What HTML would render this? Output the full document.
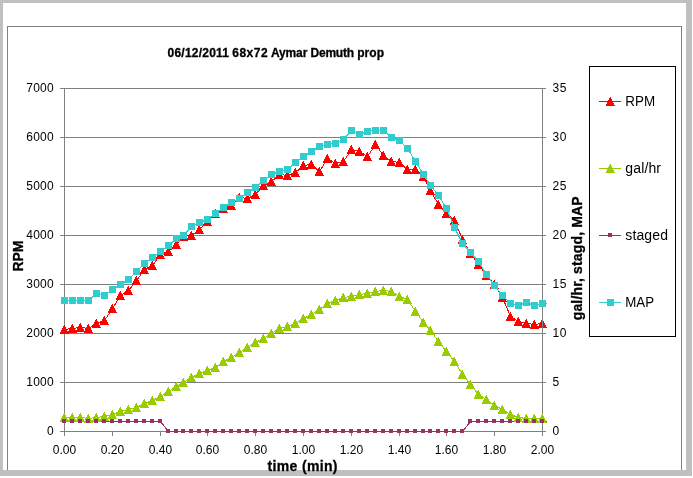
<!DOCTYPE html>
<html lang="en">
<head>
<meta charset="utf-8">
<title>06/12/2011 68x72 Aymar Demuth prop</title>
<style>
html,body{margin:0;padding:0;background:#fff;}
body{width:693px;height:478px;overflow:hidden;}
svg{display:block;will-change:transform;}
text{font-family:"Liberation Sans",Arial,Helvetica,sans-serif;fill:#000;}
.t12{font-size:12px;}
.t14{font-size:14px;}
.b{font-weight:bold;stroke:#000;stroke-width:0.3px;}
</style>
</head>
<body>
<svg width="693" height="478" viewBox="0 0 693 478">
<rect x="0" y="0" width="693" height="478" fill="#ffffff"/>
<defs><path id="tr" d="M0,-4 H1 V-2 H2 V0 H3 V2 H4 V4 H5 V5 H-4 V3 H-3 V1 H-2 V-1 H-1 V-3 H0 Z"/></defs>
<g shape-rendering="crispEdges">
<rect x="0" y="0" width="692" height="476" fill="#c0c0c0"/>
<rect x="3" y="3" width="683" height="467" fill="#ffffff"/>
<!-- chart area border -->
<rect x="7" y="26" width="1" height="444" fill="#808080"/>
<rect x="681" y="26" width="1" height="444" fill="#808080"/>
<rect x="7" y="26" width="675" height="1" fill="#808080"/>

<g fill="#808080">
<rect x="60" y="88" width="486" height="1"/>
<rect x="60" y="137" width="486" height="1"/>
<rect x="60" y="186" width="486" height="1"/>
<rect x="60" y="235" width="486" height="1"/>
<rect x="60" y="284" width="486" height="1"/>
<rect x="60" y="333" width="486" height="1"/>
<rect x="60" y="382" width="486" height="1"/>
<rect x="60" y="431" width="486" height="1"/>
<rect x="64" y="88" width="1" height="344"/>
<rect x="64" y="431" width="1" height="5"/>
<rect x="112" y="431" width="1" height="5"/>
<rect x="160" y="431" width="1" height="5"/>
<rect x="207" y="431" width="1" height="5"/>
<rect x="255" y="431" width="1" height="5"/>
<rect x="303" y="431" width="1" height="5"/>
<rect x="351" y="431" width="1" height="5"/>
<rect x="399" y="431" width="1" height="5"/>
<rect x="446" y="431" width="1" height="5"/>
<rect x="494" y="431" width="1" height="5"/>
<rect x="542" y="431" width="1" height="5"/>
</g>
<g fill="#ff0000">
<polyline points="64.5,329.5 72.5,328.5 80.5,327.5 88.5,328.5 96.5,323.5 104.5,320.5 112.5,308.5 120.5,295.5 128.5,290.5 136.5,280.5 144.5,269.5 152.5,265.5 160.5,254.5 168.5,251.5 176.5,244.5 183.5,236.5 191.5,235.5 199.5,229.5 207.5,221.5 215.5,213.5 223.5,208.5 231.5,205.5 239.5,197.5 247.5,198.5 255.5,194.5 263.5,185.5 271.5,181.5 279.5,174.5 287.5,175.5 295.5,172.5 303.5,165.5 311.5,164.5 319.5,171.5 327.5,158.5 335.5,163.5 343.5,161.5 351.5,149.5 359.5,151.5 367.5,156.5 375.5,144.5 383.5,155.5 391.5,161.5 399.5,162.5 407.5,169.5 415.5,169.5 423.5,176.5 430.5,190.5 438.5,204.5 446.5,213.5 454.5,220.5 462.5,239.5 470.5,253.5 478.5,264.5 486.5,275.5 494.5,284.5 502.5,297.5 510.5,316.5 518.5,321.5 526.5,323.5 534.5,324.5 542.5,323.5" fill="none" stroke="#ff0000" stroke-width="1"/>
<use href="#tr" x="64" y="329"/>
<use href="#tr" x="72" y="328"/>
<use href="#tr" x="80" y="327"/>
<use href="#tr" x="88" y="328"/>
<use href="#tr" x="96" y="323"/>
<use href="#tr" x="104" y="320"/>
<use href="#tr" x="112" y="308"/>
<use href="#tr" x="120" y="295"/>
<use href="#tr" x="128" y="290"/>
<use href="#tr" x="136" y="280"/>
<use href="#tr" x="144" y="269"/>
<use href="#tr" x="152" y="265"/>
<use href="#tr" x="160" y="254"/>
<use href="#tr" x="168" y="251"/>
<use href="#tr" x="176" y="244"/>
<use href="#tr" x="183" y="236"/>
<use href="#tr" x="191" y="235"/>
<use href="#tr" x="199" y="229"/>
<use href="#tr" x="207" y="221"/>
<use href="#tr" x="215" y="213"/>
<use href="#tr" x="223" y="208"/>
<use href="#tr" x="231" y="205"/>
<use href="#tr" x="239" y="197"/>
<use href="#tr" x="247" y="198"/>
<use href="#tr" x="255" y="194"/>
<use href="#tr" x="263" y="185"/>
<use href="#tr" x="271" y="181"/>
<use href="#tr" x="279" y="174"/>
<use href="#tr" x="287" y="175"/>
<use href="#tr" x="295" y="172"/>
<use href="#tr" x="303" y="165"/>
<use href="#tr" x="311" y="164"/>
<use href="#tr" x="319" y="171"/>
<use href="#tr" x="327" y="158"/>
<use href="#tr" x="335" y="163"/>
<use href="#tr" x="343" y="161"/>
<use href="#tr" x="351" y="149"/>
<use href="#tr" x="359" y="151"/>
<use href="#tr" x="367" y="156"/>
<use href="#tr" x="375" y="144"/>
<use href="#tr" x="383" y="155"/>
<use href="#tr" x="391" y="161"/>
<use href="#tr" x="399" y="162"/>
<use href="#tr" x="407" y="169"/>
<use href="#tr" x="415" y="169"/>
<use href="#tr" x="423" y="176"/>
<use href="#tr" x="430" y="190"/>
<use href="#tr" x="438" y="204"/>
<use href="#tr" x="446" y="213"/>
<use href="#tr" x="454" y="220"/>
<use href="#tr" x="462" y="239"/>
<use href="#tr" x="470" y="253"/>
<use href="#tr" x="478" y="264"/>
<use href="#tr" x="486" y="275"/>
<use href="#tr" x="494" y="284"/>
<use href="#tr" x="502" y="297"/>
<use href="#tr" x="510" y="316"/>
<use href="#tr" x="518" y="321"/>
<use href="#tr" x="526" y="323"/>
<use href="#tr" x="534" y="324"/>
<use href="#tr" x="542" y="323"/>
</g><rect x="542" y="88" width="1" height="348" fill="#808080"/><g>
<polyline points="64.5,417.5 72.5,417.5 80.5,417.5 88.5,418.5 96.5,417.5 104.5,416.5 112.5,414.5 120.5,411.5 128.5,409.5 136.5,407.5 144.5,403.5 152.5,400.5 160.5,396.5 168.5,391.5 176.5,386.5 183.5,382.5 191.5,377.5 199.5,373.5 207.5,370.5 215.5,367.5 223.5,361.5 231.5,357.5 239.5,352.5 247.5,347.5 255.5,342.5 263.5,338.5 271.5,333.5 279.5,328.5 287.5,326.5 295.5,323.5 303.5,318.5 311.5,314.5 319.5,309.5 327.5,303.5 335.5,300.5 343.5,297.5 351.5,296.5 359.5,294.5 367.5,293.5 375.5,291.5 383.5,290.5 391.5,291.5 399.5,296.5 407.5,299.5 415.5,311.5 423.5,322.5 430.5,330.5 438.5,341.5 446.5,351.5 454.5,361.5 462.5,374.5 470.5,384.5 478.5,394.5 486.5,399.5 494.5,405.5 502.5,409.5 510.5,414.5 518.5,417.5 526.5,418.5 534.5,418.5 542.5,418.5" fill="none" stroke="#99cc00" stroke-width="1"/>
<polyline points="64.5,421.5 72.5,421.5 80.5,421.5 88.5,421.5 96.5,421.5 104.5,421.5 112.5,421.5 120.5,421.5 128.5,421.5 136.5,421.5 144.5,421.5 152.5,421.5 160.5,421.5 168.5,431.5 176.5,431.5 183.5,431.5 191.5,431.5 199.5,431.5 207.5,431.5 215.5,431.5 223.5,431.5 231.5,431.5 239.5,431.5 247.5,431.5 255.5,431.5 263.5,431.5 271.5,431.5 279.5,431.5 287.5,431.5 295.5,431.5 303.5,431.5 311.5,431.5 319.5,431.5 327.5,431.5 335.5,431.5 343.5,431.5 351.5,431.5 359.5,431.5 367.5,431.5 375.5,431.5 383.5,431.5 391.5,431.5 399.5,431.5 407.5,431.5 415.5,431.5 423.5,431.5 430.5,431.5 438.5,431.5 446.5,431.5 454.5,431.5 462.5,431.5 470.5,421.5 478.5,421.5 486.5,421.5 494.5,421.5 502.5,421.5 510.5,421.5 518.5,421.5 526.5,421.5 534.5,421.5 542.5,421.5" fill="none" stroke="#993366" stroke-width="1"/>
<polyline points="64.5,300.5 72.5,300.5 80.5,300.5 88.5,300.5 96.5,293.5 104.5,295.5 112.5,289.5 120.5,284.5 128.5,279.5 136.5,271.5 144.5,263.5 152.5,257.5 160.5,251.5 168.5,245.5 176.5,238.5 183.5,235.5 191.5,226.5 199.5,222.5 207.5,219.5 215.5,213.5 223.5,207.5 231.5,202.5 239.5,198.5 247.5,192.5 255.5,187.5 263.5,180.5 271.5,174.5 279.5,171.5 287.5,169.5 295.5,162.5 303.5,156.5 311.5,151.5 319.5,146.5 327.5,144.5 335.5,143.5 343.5,139.5 351.5,130.5 359.5,134.5 367.5,131.5 375.5,130.5 383.5,130.5 391.5,137.5 399.5,140.5 407.5,148.5 415.5,161.5 423.5,174.5 430.5,185.5 438.5,195.5 446.5,208.5 454.5,227.5 462.5,243.5 470.5,252.5 478.5,261.5 486.5,274.5 494.5,285.5 502.5,295.5 510.5,303.5 518.5,305.5 526.5,302.5 534.5,305.5 542.5,303.5" fill="none" stroke="#33cccc" stroke-width="1"/>
</g><g fill="#99cc00">
<use href="#tr" x="64" y="417"/>
<use href="#tr" x="72" y="417"/>
<use href="#tr" x="80" y="417"/>
<use href="#tr" x="88" y="418"/>
<use href="#tr" x="96" y="417"/>
<use href="#tr" x="104" y="416"/>
<use href="#tr" x="112" y="414"/>
<use href="#tr" x="120" y="411"/>
<use href="#tr" x="128" y="409"/>
<use href="#tr" x="136" y="407"/>
<use href="#tr" x="144" y="403"/>
<use href="#tr" x="152" y="400"/>
<use href="#tr" x="160" y="396"/>
<use href="#tr" x="168" y="391"/>
<use href="#tr" x="176" y="386"/>
<use href="#tr" x="183" y="382"/>
<use href="#tr" x="191" y="377"/>
<use href="#tr" x="199" y="373"/>
<use href="#tr" x="207" y="370"/>
<use href="#tr" x="215" y="367"/>
<use href="#tr" x="223" y="361"/>
<use href="#tr" x="231" y="357"/>
<use href="#tr" x="239" y="352"/>
<use href="#tr" x="247" y="347"/>
<use href="#tr" x="255" y="342"/>
<use href="#tr" x="263" y="338"/>
<use href="#tr" x="271" y="333"/>
<use href="#tr" x="279" y="328"/>
<use href="#tr" x="287" y="326"/>
<use href="#tr" x="295" y="323"/>
<use href="#tr" x="303" y="318"/>
<use href="#tr" x="311" y="314"/>
<use href="#tr" x="319" y="309"/>
<use href="#tr" x="327" y="303"/>
<use href="#tr" x="335" y="300"/>
<use href="#tr" x="343" y="297"/>
<use href="#tr" x="351" y="296"/>
<use href="#tr" x="359" y="294"/>
<use href="#tr" x="367" y="293"/>
<use href="#tr" x="375" y="291"/>
<use href="#tr" x="383" y="290"/>
<use href="#tr" x="391" y="291"/>
<use href="#tr" x="399" y="296"/>
<use href="#tr" x="407" y="299"/>
<use href="#tr" x="415" y="311"/>
<use href="#tr" x="423" y="322"/>
<use href="#tr" x="430" y="330"/>
<use href="#tr" x="438" y="341"/>
<use href="#tr" x="446" y="351"/>
<use href="#tr" x="454" y="361"/>
<use href="#tr" x="462" y="374"/>
<use href="#tr" x="470" y="384"/>
<use href="#tr" x="478" y="394"/>
<use href="#tr" x="486" y="399"/>
<use href="#tr" x="494" y="405"/>
<use href="#tr" x="502" y="409"/>
<use href="#tr" x="510" y="414"/>
<use href="#tr" x="518" y="417"/>
<use href="#tr" x="526" y="418"/>
<use href="#tr" x="534" y="418"/>
<use href="#tr" x="542" y="418"/>
</g><g>
<rect x="62" y="419" width="4" height="4" fill="#993366"/>
<rect x="70" y="419" width="4" height="4" fill="#993366"/>
<rect x="78" y="419" width="4" height="4" fill="#993366"/>
<rect x="86" y="419" width="4" height="4" fill="#993366"/>
<rect x="94" y="419" width="4" height="4" fill="#993366"/>
<rect x="102" y="419" width="4" height="4" fill="#993366"/>
<rect x="110" y="419" width="4" height="4" fill="#993366"/>
<rect x="118" y="419" width="4" height="4" fill="#993366"/>
<rect x="126" y="419" width="4" height="4" fill="#993366"/>
<rect x="134" y="419" width="4" height="4" fill="#993366"/>
<rect x="142" y="419" width="4" height="4" fill="#993366"/>
<rect x="150" y="419" width="4" height="4" fill="#993366"/>
<rect x="158" y="419" width="4" height="4" fill="#993366"/>
<rect x="166" y="429" width="4" height="4" fill="#993366"/>
<rect x="174" y="429" width="4" height="4" fill="#993366"/>
<rect x="181" y="429" width="4" height="4" fill="#993366"/>
<rect x="189" y="429" width="4" height="4" fill="#993366"/>
<rect x="197" y="429" width="4" height="4" fill="#993366"/>
<rect x="205" y="429" width="4" height="4" fill="#993366"/>
<rect x="213" y="429" width="4" height="4" fill="#993366"/>
<rect x="221" y="429" width="4" height="4" fill="#993366"/>
<rect x="229" y="429" width="4" height="4" fill="#993366"/>
<rect x="237" y="429" width="4" height="4" fill="#993366"/>
<rect x="245" y="429" width="4" height="4" fill="#993366"/>
<rect x="253" y="429" width="4" height="4" fill="#993366"/>
<rect x="261" y="429" width="4" height="4" fill="#993366"/>
<rect x="269" y="429" width="4" height="4" fill="#993366"/>
<rect x="277" y="429" width="4" height="4" fill="#993366"/>
<rect x="285" y="429" width="4" height="4" fill="#993366"/>
<rect x="293" y="429" width="4" height="4" fill="#993366"/>
<rect x="301" y="429" width="4" height="4" fill="#993366"/>
<rect x="309" y="429" width="4" height="4" fill="#993366"/>
<rect x="317" y="429" width="4" height="4" fill="#993366"/>
<rect x="325" y="429" width="4" height="4" fill="#993366"/>
<rect x="333" y="429" width="4" height="4" fill="#993366"/>
<rect x="341" y="429" width="4" height="4" fill="#993366"/>
<rect x="349" y="429" width="4" height="4" fill="#993366"/>
<rect x="357" y="429" width="4" height="4" fill="#993366"/>
<rect x="365" y="429" width="4" height="4" fill="#993366"/>
<rect x="373" y="429" width="4" height="4" fill="#993366"/>
<rect x="381" y="429" width="4" height="4" fill="#993366"/>
<rect x="389" y="429" width="4" height="4" fill="#993366"/>
<rect x="397" y="429" width="4" height="4" fill="#993366"/>
<rect x="405" y="429" width="4" height="4" fill="#993366"/>
<rect x="413" y="429" width="4" height="4" fill="#993366"/>
<rect x="421" y="429" width="4" height="4" fill="#993366"/>
<rect x="428" y="429" width="4" height="4" fill="#993366"/>
<rect x="436" y="429" width="4" height="4" fill="#993366"/>
<rect x="444" y="429" width="4" height="4" fill="#993366"/>
<rect x="452" y="429" width="4" height="4" fill="#993366"/>
<rect x="460" y="429" width="4" height="4" fill="#993366"/>
<rect x="468" y="419" width="4" height="4" fill="#993366"/>
<rect x="476" y="419" width="4" height="4" fill="#993366"/>
<rect x="484" y="419" width="4" height="4" fill="#993366"/>
<rect x="492" y="419" width="4" height="4" fill="#993366"/>
<rect x="500" y="419" width="4" height="4" fill="#993366"/>
<rect x="508" y="419" width="4" height="4" fill="#993366"/>
<rect x="516" y="419" width="4" height="4" fill="#993366"/>
<rect x="524" y="419" width="4" height="4" fill="#993366"/>
<rect x="532" y="419" width="4" height="4" fill="#993366"/>
<rect x="540" y="419" width="4" height="4" fill="#993366"/>
</g><g>
<rect x="61" y="297" width="7" height="7" fill="#33cccc"/>
<rect x="69" y="297" width="7" height="7" fill="#33cccc"/>
<rect x="77" y="297" width="7" height="7" fill="#33cccc"/>
<rect x="85" y="297" width="7" height="7" fill="#33cccc"/>
<rect x="93" y="290" width="7" height="7" fill="#33cccc"/>
<rect x="101" y="292" width="7" height="7" fill="#33cccc"/>
<rect x="109" y="286" width="7" height="7" fill="#33cccc"/>
<rect x="117" y="281" width="7" height="7" fill="#33cccc"/>
<rect x="125" y="276" width="7" height="7" fill="#33cccc"/>
<rect x="133" y="268" width="7" height="7" fill="#33cccc"/>
<rect x="141" y="260" width="7" height="7" fill="#33cccc"/>
<rect x="149" y="254" width="7" height="7" fill="#33cccc"/>
<rect x="157" y="248" width="7" height="7" fill="#33cccc"/>
<rect x="165" y="242" width="7" height="7" fill="#33cccc"/>
<rect x="173" y="235" width="7" height="7" fill="#33cccc"/>
<rect x="180" y="232" width="7" height="7" fill="#33cccc"/>
<rect x="188" y="223" width="7" height="7" fill="#33cccc"/>
<rect x="196" y="219" width="7" height="7" fill="#33cccc"/>
<rect x="204" y="216" width="7" height="7" fill="#33cccc"/>
<rect x="212" y="210" width="7" height="7" fill="#33cccc"/>
<rect x="220" y="204" width="7" height="7" fill="#33cccc"/>
<rect x="228" y="199" width="7" height="7" fill="#33cccc"/>
<rect x="236" y="195" width="7" height="7" fill="#33cccc"/>
<rect x="244" y="189" width="7" height="7" fill="#33cccc"/>
<rect x="252" y="184" width="7" height="7" fill="#33cccc"/>
<rect x="260" y="177" width="7" height="7" fill="#33cccc"/>
<rect x="268" y="171" width="7" height="7" fill="#33cccc"/>
<rect x="276" y="168" width="7" height="7" fill="#33cccc"/>
<rect x="284" y="166" width="7" height="7" fill="#33cccc"/>
<rect x="292" y="159" width="7" height="7" fill="#33cccc"/>
<rect x="300" y="153" width="7" height="7" fill="#33cccc"/>
<rect x="308" y="148" width="7" height="7" fill="#33cccc"/>
<rect x="316" y="143" width="7" height="7" fill="#33cccc"/>
<rect x="324" y="141" width="7" height="7" fill="#33cccc"/>
<rect x="332" y="140" width="7" height="7" fill="#33cccc"/>
<rect x="340" y="136" width="7" height="7" fill="#33cccc"/>
<rect x="348" y="127" width="7" height="7" fill="#33cccc"/>
<rect x="356" y="131" width="7" height="7" fill="#33cccc"/>
<rect x="364" y="128" width="7" height="7" fill="#33cccc"/>
<rect x="372" y="127" width="7" height="7" fill="#33cccc"/>
<rect x="380" y="127" width="7" height="7" fill="#33cccc"/>
<rect x="388" y="134" width="7" height="7" fill="#33cccc"/>
<rect x="396" y="137" width="7" height="7" fill="#33cccc"/>
<rect x="404" y="145" width="7" height="7" fill="#33cccc"/>
<rect x="412" y="158" width="7" height="7" fill="#33cccc"/>
<rect x="420" y="171" width="7" height="7" fill="#33cccc"/>
<rect x="427" y="182" width="7" height="7" fill="#33cccc"/>
<rect x="435" y="192" width="7" height="7" fill="#33cccc"/>
<rect x="443" y="205" width="7" height="7" fill="#33cccc"/>
<rect x="451" y="224" width="7" height="7" fill="#33cccc"/>
<rect x="459" y="240" width="7" height="7" fill="#33cccc"/>
<rect x="467" y="249" width="7" height="7" fill="#33cccc"/>
<rect x="475" y="258" width="7" height="7" fill="#33cccc"/>
<rect x="483" y="271" width="7" height="7" fill="#33cccc"/>
<rect x="491" y="282" width="7" height="7" fill="#33cccc"/>
<rect x="499" y="292" width="7" height="7" fill="#33cccc"/>
<rect x="507" y="300" width="7" height="7" fill="#33cccc"/>
<rect x="515" y="302" width="7" height="7" fill="#33cccc"/>
<rect x="523" y="299" width="7" height="7" fill="#33cccc"/>
<rect x="531" y="302" width="7" height="7" fill="#33cccc"/>
<rect x="539" y="300" width="7" height="7" fill="#33cccc"/>
<rect x="546" y="303" width="1" height="1" fill="#33cccc"/><rect x="546" y="421" width="1" height="1" fill="#993366"/>
</g>
<rect x="589.5" y="66.5" width="86" height="270" fill="#ffffff" stroke="#000000" stroke-width="1"/>
<rect x="599" y="101" width="22" height="1" fill="#ff0000"/>
<use href="#tr" x="610" y="101" fill="#ff0000"/>
<rect x="599" y="168" width="22" height="1" fill="#99cc00"/>
<use href="#tr" x="610" y="168" fill="#99cc00"/>
<rect x="599" y="235" width="22" height="1" fill="#993366"/>
<rect x="608" y="233" width="4" height="4" fill="#993366"/>
<rect x="599" y="302" width="22" height="1" fill="#33cccc"/>
<rect x="607" y="299" width="7" height="7" fill="#33cccc"/>
</g>

<g class="t12">
<text x="26.2" y="92" textLength="27.5" lengthAdjust="spacing">7000</text>
<text x="26.2" y="141" textLength="27.5" lengthAdjust="spacing">6000</text>
<text x="26.2" y="190" textLength="27.5" lengthAdjust="spacing">5000</text>
<text x="26.2" y="239" textLength="27.5" lengthAdjust="spacing">4000</text>
<text x="26.2" y="288" textLength="27.5" lengthAdjust="spacing">3000</text>
<text x="26.2" y="337" textLength="27.5" lengthAdjust="spacing">2000</text>
<text x="26.2" y="386" textLength="27.5" lengthAdjust="spacing">1000</text>
<text x="53.8" y="435" text-anchor="end">0</text>
<text x="552.5" y="92" textLength="14" lengthAdjust="spacing">35</text>
<text x="552.5" y="141" textLength="14" lengthAdjust="spacing">30</text>
<text x="552.5" y="190" textLength="14" lengthAdjust="spacing">25</text>
<text x="552.5" y="239" textLength="14" lengthAdjust="spacing">20</text>
<text x="552.5" y="288" textLength="14" lengthAdjust="spacing">15</text>
<text x="552.5" y="337" textLength="14" lengthAdjust="spacing">10</text>
<text x="552.5" y="386">5</text>
<text x="552.5" y="435">0</text>
<text x="64.5" y="454" text-anchor="middle">0.00</text>
<text x="112.5" y="454" text-anchor="middle">0.20</text>
<text x="160.5" y="454" text-anchor="middle">0.40</text>
<text x="207.5" y="454" text-anchor="middle">0.60</text>
<text x="255.5" y="454" text-anchor="middle">0.80</text>
<text x="303.5" y="454" text-anchor="middle">1.00</text>
<text x="351.5" y="454" text-anchor="middle">1.20</text>
<text x="399.5" y="454" text-anchor="middle">1.40</text>
<text x="446.5" y="454" text-anchor="middle">1.60</text>
<text x="494.5" y="454" text-anchor="middle">1.80</text>
<text x="542.5" y="454" text-anchor="middle">2.00</text>
</g>
<text class="t12 b" y="57"><tspan x="167.5" textLength="61.5" lengthAdjust="spacing">06/12/2011</tspan> <tspan x="232.3" textLength="35.3" lengthAdjust="spacing">68x72</tspan> <tspan x="271" textLength="36.3" lengthAdjust="spacing">Aymar</tspan> <tspan x="310.5" textLength="43.6" lengthAdjust="spacing">Demuth</tspan> <tspan x="357.2" textLength="26.8" lengthAdjust="spacing">prop</tspan></text>
<text class="t14 b" x="267.5" y="471" textLength="70" lengthAdjust="spacing">time (min)</text>
<text class="t14 b" transform="translate(23,271.5) rotate(-90)" textLength="31" lengthAdjust="spacing">RPM</text>
<text class="t14 b" transform="translate(582,320.3) rotate(-90)" textLength="124" lengthAdjust="spacing">gal/hr, stagd, MAP</text>
<g class="t14">
<text x="625.3" y="106" textLength="29.8" lengthAdjust="spacingAndGlyphs">RPM</text>
<text x="625.3" y="173" textLength="35.7" lengthAdjust="spacing">gal/hr</text>
<text x="625.3" y="240" textLength="42.7" lengthAdjust="spacing">staged</text>
<text x="625.3" y="307" textLength="28.8" lengthAdjust="spacingAndGlyphs">MAP</text>
</g>
</svg>
</body>
</html>
